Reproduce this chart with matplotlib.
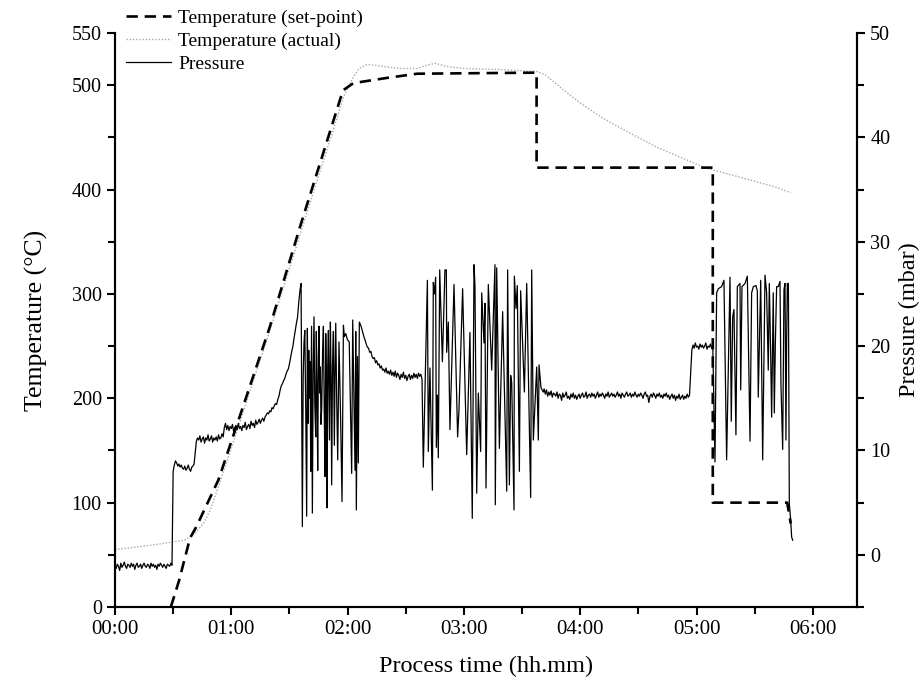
import numpy as np
import matplotlib
matplotlib.use("Agg")
import matplotlib.pyplot as plt
from matplotlib.ticker import FuncFormatter, MultipleLocator, FixedLocator

plt.rcParams['font.family'] = ['Liberation Serif', 'DejaVu Serif']

# ---------------- data (time in hours) ----------------
# Temperature set-point (°C)
sp_time = [0.48, 0.55, 0.645, 0.70, 0.89, 1.33, 1.59, 1.96, 2.05, 2.34, 2.60, 3.625, 3.625, 5.14, 5.14, 5.78, 5.81]
sp_temp = [0, 25, 66, 77, 122, 268, 364, 495, 502, 507, 511, 512, 421, 421, 100, 100, 80]

# Temperature actual (°C)
act_time = [0.00, 0.30, 0.60, 0.69, 0.76, 0.82, 0.90, 1.00, 1.34, 1.60, 1.85, 1.97, 2.05, 2.10, 2.17, 2.30,
            2.45, 2.60, 2.68, 2.75, 2.85, 3.00, 3.30, 3.63, 3.70, 3.85, 4.00, 4.20, 4.43, 4.65, 4.86, 5.07,
            5.30, 5.50, 5.69, 5.81]
act_temp = [55, 59, 64, 71, 80, 93, 119, 152, 268, 360, 448, 490, 508, 516, 520, 518,
            516, 516, 519, 521, 518, 516, 515, 513, 510, 496, 483, 468, 454, 441, 431, 421,
            414, 408, 402, 397]

# Pressure (mbar) -- regularly sampled segments (start, step) + irregular burst segments
pA_start, pA_step = 0.00, 0.01
pA = [-1.0, -1.3, -0.9, -1.1, -1.5, -0.8, -1.2, -1.0, -0.7, -1.1, -1.3, -0.9, -1.0, -1.2, -0.8, -1.1, -0.9,
      -1.4, -1.0, -0.8, -1.2, -1.1, -0.9, -1.3, -1.0, -0.8, -1.1, -1.2, -0.9, -1.0, -1.3, -0.8, -1.1, -0.9,
      -1.2, -1.0, -1.4, -0.9, -1.1, -0.8, -1.0, -1.2, -0.9, -1.1, -1.3, -0.9, -1.0, -1.1, -0.8, -1.0]

pB_start, pB_step = 0.50, 0.01
pB = [8.0, 8.6, 9.0, 8.8, 8.5, 8.7, 8.4, 8.6, 8.3, 8.2, 8.5, 8.1, 8.3, 8.6, 8.2, 8.0, 8.4, 8.5, 8.7,
      9.8,
      10.9, 11.2, 11.0, 11.4, 10.8, 11.1, 11.3, 10.7, 11.2, 11.0, 11.5, 10.9, 11.1, 11.4, 10.8, 11.2, 11.0,
      11.3, 10.9, 11.5, 11.1, 11.2, 11.6, 11.3,
      12.2, 12.6, 12.0, 12.4, 11.9, 12.3, 12.1, 12.5, 11.8, 12.2, 12.4, 12.0, 12.6, 12.1, 12.3, 11.9, 12.4,
      12.2, 12.7, 12.0, 12.3, 12.5, 12.1, 12.8, 12.4, 12.6, 12.2, 12.9, 12.5, 12.7, 13.0, 12.6, 12.9, 13.1,
      12.8, 13.2, 13.4,
      13.6, 13.5, 13.8, 13.7, 14.1, 14.0, 14.3, 14.5, 14.4, 14.9, 15.2, 15.8, 16.2, 16.4, 16.7, 16.9, 17.3,
      17.6, 17.8, 18.3, 18.9, 19.5, 20.0, 20.8, 21.5, 22.2, 22.8, 24.2, 25.3, 26.0]

pC_time = [1.611, 1.618, 1.625, 1.632, 1.640, 1.648, 1.654, 1.660, 1.666, 1.672, 1.678, 1.683, 1.690, 1.697,
           1.704, 1.711, 1.718, 1.726, 1.731, 1.737, 1.743, 1.749, 1.754, 1.760, 1.766, 1.771, 1.777, 1.785,
           1.792, 1.799, 1.806, 1.812, 1.818, 1.823, 1.829, 1.835, 1.840, 1.844, 1.852, 1.858, 1.863, 1.870,
           1.878, 1.886, 1.892, 1.898, 1.906, 1.915, 1.926, 1.940, 1.952, 1.964, 1.972, 1.984, 1.999, 2.014,
           2.035, 2.044, 2.064, 2.070, 2.075, 2.085, 2.092, 2.101, 2.116]
pC = [2.7, 17.0, 20.3, 21.5, 14.0, 3.7, 21.7, 12.6, 19.6, 15.0, 18.5, 8.0, 21.9, 4.0,
      17.5, 22.8, 14.5, 11.3, 21.4, 16.0, 8.1, 19.0, 21.9, 15.5, 18.0, 12.5, 13.9, 19.5,
      21.9, 14.0, 7.5, 21.2, 16.0, 4.5, 18.0, 21.5, 15.0, 11.0, 22.3, 16.5, 6.7, 18.0,
      21.4, 10.5, 17.5, 22.2, 15.0, 9.1, 20.4, 13.0, 5.1, 22.0, 20.9, 21.2, 20.6, 20.4,
      7.8, 22.5, 8.1, 21.4, 4.3, 19.0, 8.8, 22.3, 21.9]

pD_start, pD_step = 2.13, 0.01
pD = [21.3, 20.9, 20.6, 20.2, 19.9, 19.8, 19.4, 19.5, 19.0, 18.8, 18.9, 18.4, 18.6, 18.2, 18.3, 17.9, 18.1,
      17.7, 17.8, 17.5, 17.9, 17.4, 17.6, 17.3, 17.7, 17.2, 17.5, 17.1, 17.6, 17.0, 17.4, 17.2, 16.8, 17.3,
      17.0, 17.5, 16.9, 17.2, 16.7, 17.1, 17.3, 16.8, 17.2, 16.9, 17.4, 17.0, 17.3, 16.9, 17.4, 17.1, 17.3,
      16.8]

pE_time = [2.651, 2.686, 2.694, 2.708, 2.729, 2.737, 2.746, 2.757, 2.763, 2.772, 2.780, 2.792, 2.815, 2.837,
           2.849, 2.852, 2.866, 2.880, 2.915, 2.946, 2.958, 2.989, 3.024, 3.052, 3.072, 3.087, 3.095, 3.110,
           3.124, 3.144, 3.153, 3.173, 3.181, 3.190, 3.210, 3.239, 3.267, 3.270, 3.282, 3.305, 3.333, 3.368,
           3.376, 3.391, 3.402, 3.411, 3.431, 3.434, 3.448, 3.459, 3.477, 3.488, 3.520, 3.540, 3.574, 3.583,
           3.597, 3.626, 3.640, 3.646, 3.663, 3.683]
pE = [8.4, 26.3, 9.9, 17.9, 6.2, 26.1, 25.0, 26.6, 10.3, 15.3, 9.3, 27.3, 18.5, 27.3,
      27.3, 19.4, 22.3, 12.0, 25.9, 11.3, 14.0, 25.5, 9.6, 21.3, 3.5, 27.8, 25.8, 5.9,
      15.5, 9.9, 25.1, 20.3, 24.1, 6.4, 25.9, 17.7, 27.8, 4.8, 27.5, 10.2, 23.3, 6.1,
      27.3, 6.7, 17.2, 16.5, 4.3, 26.7, 23.6, 25.8, 8.0, 25.3, 15.6, 26.0, 5.5, 27.3,
      11.0, 18.0, 11.0, 18.2, 16.0, 15.6]

pF_start, pF_step = 3.69, 0.01
pF = [15.9, 15.4, 15.8, 15.2, 15.6, 15.3, 15.7, 15.1, 15.5, 15.4,
      15.2, 15.6, 15.0, 15.4, 15.3, 14.8, 15.5, 15.1, 15.3, 15.6,
      15.0, 15.2, 14.9, 15.4, 15.1, 15.5, 15.0, 15.3, 14.9, 15.2,
      15.4, 15.0, 15.3, 15.5, 15.1, 15.2, 15.6, 15.0, 15.3, 15.4,
      15.1, 15.5, 15.2, 15.4, 15.0, 15.3, 15.6, 15.1, 15.4, 15.2,
      15.5, 15.3, 15.0, 15.4, 15.2, 15.6, 15.1, 15.3, 15.5, 15.2,
      15.4, 15.1, 15.3, 15.6, 15.2, 15.4, 15.0, 15.5, 15.3, 15.1,
      15.4, 15.6, 15.2, 15.3, 15.5, 15.1, 15.4, 15.2, 15.6, 15.3,
      15.1, 15.4, 15.2, 15.5, 15.3, 15.0, 15.4, 15.6, 15.2, 15.3,
      14.6, 15.2, 15.4, 15.1, 15.5, 15.3, 15.0, 15.4, 15.2, 15.5,
      15.1, 15.3, 15.0, 15.4, 15.2, 15.5, 15.1, 15.3, 14.9, 15.2,
      15.4, 15.0, 15.3, 14.8, 15.2, 15.0, 15.4, 14.9, 15.1, 15.3,
      14.9, 15.2, 15.0, 15.4, 15.1, 15.3]

pG_start, pG_step = 4.95, 0.01
pG = [17.5, 19.6, 20.1, 19.8, 20.3, 19.9, 20.0, 19.7, 20.2, 19.9, 20.1, 19.8, 20.0, 20.3, 19.7, 20.0,
      19.9, 20.2, 19.8, 20.0]

pH_time = [5.159, 5.173, 5.188, 5.216, 5.236, 5.259, 5.288, 5.299, 5.311, 5.322, 5.339, 5.351, 5.374, 5.380,
           5.391, 5.417, 5.437, 5.460, 5.474, 5.489, 5.511, 5.523, 5.531, 5.552, 5.569, 5.589, 5.603, 5.617,
           5.626, 5.637, 5.646, 5.660, 5.669, 5.678, 5.689, 5.703, 5.718, 5.726, 5.741, 5.752, 5.761, 5.769,
           5.775, 5.781, 5.790, 5.798, 5.810, 5.818, 5.827]
pH = [8.9, 25.1, 25.5, 25.7, 26.3, 9.1, 26.6, 12.8, 22.8, 23.5, 11.5, 25.7, 26.0, 15.8,
      25.7, 26.0, 26.7, 10.9, 25.1, 25.7, 25.8, 25.3, 15.1, 26.3, 9.1, 26.8, 25.1, 17.7,
      26.0, 19.6, 13.2, 25.1, 13.6, 20.3, 25.7, 25.7, 26.2, 16.4, 10.1, 25.4, 26.0, 11.0,
      20.6, 26.0, 26.0, 4.9, 3.3, 1.7, 1.4]


def grid(start, step, vals):
    return list(start + step * np.arange(len(vals)))


p_time = (grid(pA_start, pA_step, pA) + grid(pB_start, pB_step, pB) + pC_time +
          grid(pD_start, pD_step, pD) + pE_time + grid(pF_start, pF_step, pF) +
          grid(pG_start, pG_step, pG) + pH_time)
p_val = pA + pB + pC + pD + pE + pF + pG + pH

# ---------------- figure ----------------
fig = plt.figure(figsize=(9.24, 6.86), dpi=100)
ax = fig.add_axes([115 / 924, 1 - 607 / 686, (857 - 115) / 924, (607 - 33) / 686])
ax2 = ax.twinx()

l1, = ax.plot(sp_time, sp_temp, color='black', lw=1.9, linestyle=(0, (4.3, 2.6)),
              label='Temperature (set-point)', zorder=3)
l2, = ax.plot(act_time, act_temp, color='#a8a8a8', lw=1.0, linestyle=(0, (1, 1.3)),
              label='Temperature (actual)', zorder=2)
l3, = ax2.plot(p_time, p_val, color='black', lw=0.9, label='Pressure')

ax.set_xlim(0, 6.38)
ax.set_ylim(0, 550)
ax2.set_ylim(-5, 50)

ax.xaxis.set_major_locator(MultipleLocator(1))
ax.xaxis.set_minor_locator(MultipleLocator(0.5))
ax.xaxis.set_major_formatter(FuncFormatter(lambda h, pos: f"{int(round(h)):02d}:00"))
ax.yaxis.set_major_locator(FixedLocator([0, 100, 200, 300, 400, 500, 550]))
ax.yaxis.set_minor_locator(FixedLocator([50, 150, 250, 350, 450]))
ax2.yaxis.set_major_locator(MultipleLocator(10))
ax2.yaxis.set_minor_locator(FixedLocator([-5, 5, 15, 25, 35, 45]))

for a in (ax, ax2):
    a.spines['top'].set_visible(False)
    for s in a.spines.values():
        s.set_linewidth(1.5)
    a.tick_params(which='major', direction='out', length=6, width=1.5, labelsize=14.5)
    a.tick_params(which='minor', direction='out', length=5, width=1.5)
ax.tick_params(axis='x', which='major', labelsize=15)

ax.set_xlabel('Process time (hh.mm)', fontsize=17.5, labelpad=12)
ax.set_ylabel('Temperature (°C)', fontsize=18.5, labelpad=17)
ax2.set_ylabel('Pressure (mbar)', fontsize=17.5, labelpad=6)

fig.legend(handles=[l1, l2, l3], loc='upper left', bbox_to_anchor=(126 / 924, 1 - 9 / 686),
           frameon=False, fontsize=14, handlelength=2.3, handletextpad=0.4, labelspacing=0.28,
           borderpad=0, borderaxespad=0)

fig.savefig('out.png', dpi=100)
